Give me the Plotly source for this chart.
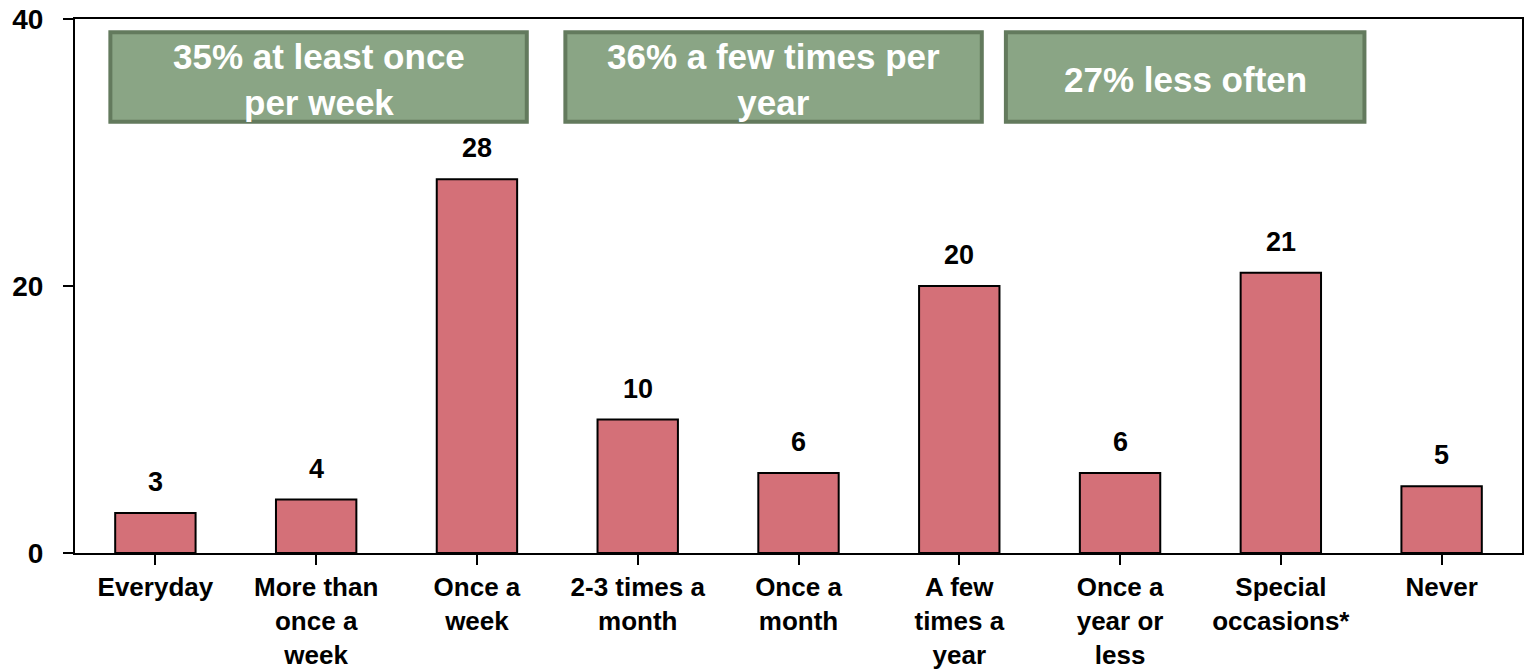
import plotly.graph_objects as go

categories = ["Everyday", "More than<br>once a<br>week", "Once a<br>week", "2-3 times a<br>month",
              "Once a<br>month", "A few<br>times a<br>year", "Once a<br>year or<br>less",
              "Special<br>occasions*", "Never"]
values = [3, 4, 28, 10, 6, 20, 6, 21, 5]

group_labels = ["35% at least once<br>per week", "36% a few times per<br>year", "27% less often"]
group_x0 = [-0.28, 2.55, 5.29]
group_x1 = [2.31, 5.14, 7.52]

FONT = "Liberation Sans, Arial, sans-serif"

fig = go.Figure()
fig.add_trace(go.Bar(
    x=list(range(len(categories))), y=values,
    width=0.5,
    marker=dict(color="#D47078", line=dict(color="#000000", width=2)),
    cliponaxis=False,
))

shapes = []
annotations = []
for i, v in enumerate(values):
    annotations.append(dict(x=i, y=v, xref="x", yref="y", text=str(v), showarrow=False,
                            yanchor="bottom", yshift=14,
                            font=dict(family=FONT, size=27, color="#000000", weight="bold")))
for lab, x0, x1 in zip(group_labels, group_x0, group_x1):
    shapes.append(dict(type="rect", xref="x", yref="y", x0=x0, x1=x1, y0=32.3, y1=39.0,
                       fillcolor="#8AA585", line=dict(color="#637A5D", width=4), layer="above"))
    annotations.append(dict(x=(x0 + x1) / 2, y=35.5, xref="x", yref="y", text=lab,
                            showarrow=False, align="center",
                            font=dict(family=FONT, size=35, color="#FFFFFF", weight="bold")))

fig.update_layout(
    width=1525, height=671,
    margin=dict(l=75, r=3, t=19, b=118),
    paper_bgcolor="#FFFFFF", plot_bgcolor="#FFFFFF",
    showlegend=False,
    shapes=shapes, annotations=annotations,
    xaxis=dict(
        tickmode="array", tickvals=list(range(len(categories))), ticktext=categories,
        range=[-0.5, len(categories) - 0.5], automargin=False,
        tickson="boundaries", ticks="outside", ticklen=10, tickwidth=1.5, tickcolor="#000",
        showline=True, linecolor="#000", linewidth=2, mirror=True, showgrid=False,
        tickfont=dict(family=FONT, size=26, color="#000", weight="bold"),
        tickangle=0,
    ),
    yaxis=dict(
        range=[0, 40], tickvals=[0, 20, 40], ticks="outside", ticklen=10, tickwidth=1.5,
        tickcolor="#000", showline=True, linecolor="#000", linewidth=2, mirror=True,
        showgrid=False, zeroline=False, ticklabelstandoff=14, automargin=False,
        tickfont=dict(family=FONT, size=28, color="#000", weight="bold"),
    ),
)

fig.write_html("out.html", config={"displayModeBar": False},
               post_script="document.body.style.margin='0';document.body.style.overflow='hidden';")
